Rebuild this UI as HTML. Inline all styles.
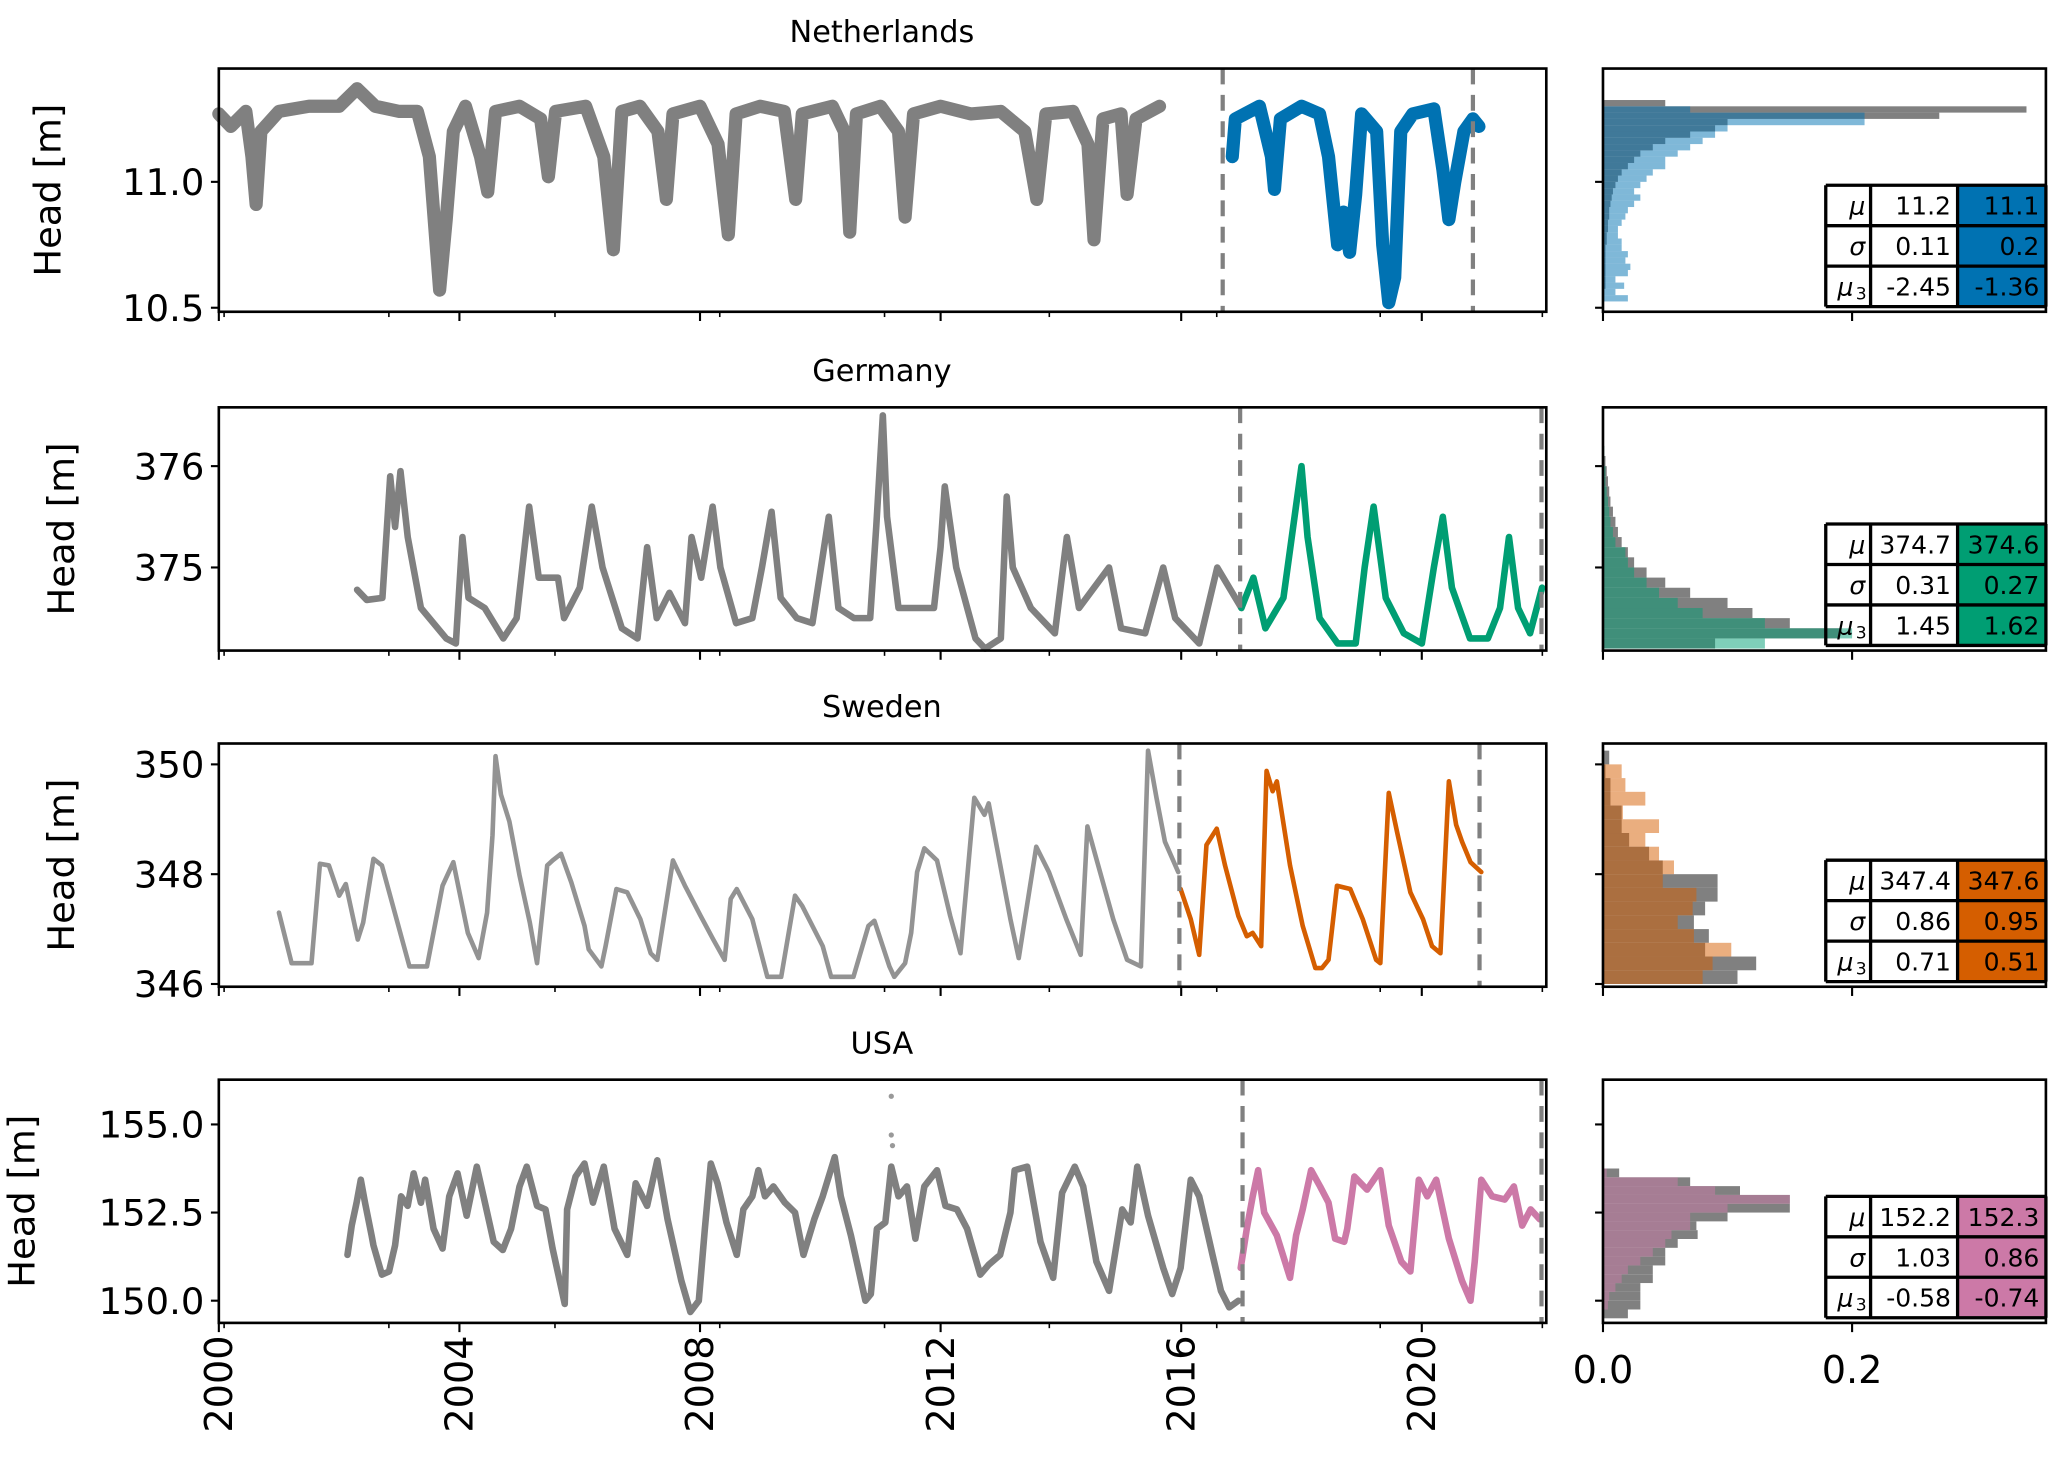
<!DOCTYPE html>
<html><head><meta charset="utf-8"><title>Groundwater heads</title>
<style>
html,body{margin:0;padding:0;background:#fff;}
svg{display:block;font-family:"DejaVu Sans","Liberation Sans",sans-serif;}
</style></head>
<body>
<svg id="fig" width="2067" height="1477" viewBox="0 0 1568 1120.4" preserveAspectRatio="none" xmlns="http://www.w3.org/2000/svg"></svg>
<script>
// ---------- DATA ----------
const panelNames = ["Netherlands","Germany","Sweden","USA"];
const seriesColors = ["#0072b2","#009e73","#d55e00","#cc79a7"];
const yTicks = [[10.5,11.0],[375,376],[346,348,350],[150.0,152.5,155.0]];
const yTickLabels = [["10.5","11.0"],["375","376"],["346","348","350"],["150.0","152.5","155.0"]];
const yLimits = [[10.484,11.45],[374.18,376.58],[345.95,350.38],[149.37,156.27]];
const splitYears = [[2016.69,2020.85],[2016.98,2021.99],[2015.97,2020.96],[2017.02,2021.99]];
const xTickYears = [2000,2004,2008,2012,2016,2020];
const xTickLabels = ["2000","2004","2008","2012","2016","2020"];
const histTicks = [0.0,0.2];
const histTickLabels = ["0.0","0.2"];
const statLabels = ["μ","σ","μ"];
const statsObs = [["11.2","0.11","-2.45"],["374.7","0.31","1.45"],["347.4","0.86","0.71"],["152.2","1.03","-0.58"]];
const statsNew = [["11.1","0.2","-1.36"],["374.6","0.27","1.62"],["347.6","0.95","0.51"],["152.3","0.86","-0.74"]];

const nlGray = [[2000.0,11.27],[2000.2,11.22],[2000.45,11.28],[2000.55,11.1],[2000.62,10.91],[2000.7,11.2],[2001.0,11.28],[2001.5,11.3],[2002.0,11.3],[2002.3,11.37],[2002.6,11.3],[2003.0,11.28],[2003.3,11.28],[2003.5,11.1],[2003.67,10.57],[2003.78,10.85],[2003.9,11.2],[2004.1,11.3],[2004.35,11.1],[2004.47,10.96],[2004.6,11.28],[2005.0,11.3],[2005.35,11.25],[2005.48,11.02],[2005.6,11.28],[2006.1,11.3],[2006.4,11.1],[2006.56,10.73],[2006.7,11.28],[2007.0,11.3],[2007.3,11.2],[2007.44,10.93],[2007.55,11.27],[2008.0,11.3],[2008.3,11.15],[2008.47,10.79],[2008.6,11.27],[2009.0,11.3],[2009.4,11.28],[2009.59,10.93],[2009.7,11.27],[2010.2,11.3],[2010.4,11.2],[2010.49,10.8],[2010.6,11.27],[2011.0,11.3],[2011.3,11.2],[2011.41,10.86],[2011.55,11.27],[2012.0,11.3],[2012.5,11.27],[2013.0,11.28],[2013.4,11.2],[2013.6,10.93],[2013.75,11.27],[2014.2,11.28],[2014.45,11.15],[2014.55,10.77],[2014.7,11.25],[2015.0,11.27],[2015.1,10.95],[2015.25,11.25],[2015.64,11.3]];
const nlNew = [[2016.85,11.1],[2016.9,11.25],[2017.3,11.3],[2017.5,11.1],[2017.55,10.97],[2017.65,11.25],[2018.0,11.3],[2018.3,11.27],[2018.45,11.1],[2018.6,10.75],[2018.7,10.88],[2018.8,10.72],[2018.9,10.95],[2019.0,11.27],[2019.25,11.2],[2019.35,10.75],[2019.45,10.52],[2019.55,10.62],[2019.65,11.2],[2019.85,11.27],[2020.2,11.29],[2020.35,11.05],[2020.45,10.85],[2020.55,11.0],[2020.7,11.2],[2020.85,11.25],[2020.95,11.22]];

const deGray = [[2002.3,374.78],[2002.46,374.68],[2002.72,374.7],[2002.85,375.9],[2002.93,375.4],[2003.02,375.95],[2003.14,375.3],[2003.36,374.6],[2003.78,374.3],[2003.94,374.25],[2004.05,375.3],[2004.15,374.7],[2004.42,374.6],[2004.73,374.3],[2004.95,374.5],[2005.16,375.6],[2005.32,374.9],[2005.64,374.9],[2005.74,374.5],[2006.0,374.8],[2006.2,375.6],[2006.38,375.0],[2006.7,374.4],[2006.96,374.3],[2007.12,375.2],[2007.28,374.5],[2007.49,374.75],[2007.75,374.45],[2007.86,375.3],[2008.02,374.9],[2008.21,375.6],[2008.34,375.0],[2008.6,374.45],[2008.87,374.5],[2009.03,375.0],[2009.19,375.55],[2009.34,374.7],[2009.61,374.5],[2009.87,374.45],[2010.14,375.5],[2010.3,374.6],[2010.56,374.5],[2010.83,374.5],[2010.93,375.4],[2011.04,376.5],[2011.11,375.5],[2011.3,374.6],[2011.62,374.6],[2011.89,374.6],[2012.0,375.2],[2012.07,375.8],[2012.26,375.0],[2012.58,374.3],[2012.74,374.2],[2013.0,374.3],[2013.1,375.7],[2013.2,375.0],[2013.5,374.6],[2013.9,374.35],[2014.1,375.3],[2014.3,374.6],[2014.8,375.0],[2015.0,374.4],[2015.4,374.35],[2015.7,375.0],[2015.9,374.5],[2016.3,374.25],[2016.6,375.0],[2016.9,374.7],[2017.0,374.6]];
const deNew = [[2017.0,374.6],[2017.2,374.9],[2017.4,374.4],[2017.7,374.7],[2018.0,376.0],[2018.1,375.3],[2018.3,374.5],[2018.6,374.25],[2018.9,374.25],[2019.05,375.0],[2019.2,375.6],[2019.4,374.7],[2019.7,374.35],[2020.0,374.25],[2020.2,375.0],[2020.35,375.5],[2020.5,374.8],[2020.8,374.3],[2021.1,374.3],[2021.3,374.6],[2021.45,375.3],[2021.6,374.6],[2021.8,374.35],[2022.0,374.8]];

const seGray = [[2001.0,347.3],[2001.21,346.38],[2001.54,346.38],[2001.68,348.19],[2001.83,348.16],[2002.0,347.61],[2002.11,347.82],[2002.31,346.81],[2002.4,347.12],[2002.57,348.28],[2002.71,348.16],[2003.17,346.32],[2003.46,346.32],[2003.72,347.79],[2003.9,348.22],[2004.14,346.93],[2004.32,346.47],[2004.46,347.3],[2004.55,348.71],[2004.6,350.15],[2004.69,349.45],[2004.83,348.96],[2005.0,347.98],[2005.17,347.12],[2005.29,346.38],[2005.46,348.16],[2005.55,348.25],[2005.69,348.37],[2005.86,347.85],[2006.08,347.06],[2006.15,346.63],[2006.36,346.32],[2006.43,346.69],[2006.61,347.73],[2006.79,347.67],[2007.01,347.18],[2007.18,346.56],[2007.29,346.44],[2007.55,348.25],[2007.75,347.79],[2008.01,347.24],[2008.22,346.81],[2008.41,346.44],[2008.51,347.55],[2008.61,347.73],[2008.87,347.18],[2009.12,346.13],[2009.35,346.13],[2009.58,347.61],[2009.7,347.42],[2010.04,346.69],[2010.18,346.13],[2010.55,346.13],[2010.8,347.06],[2010.9,347.15],[2011.15,346.32],[2011.23,346.13],[2011.41,346.38],[2011.51,346.93],[2011.61,348.04],[2011.73,348.47],[2011.94,348.25],[2012.16,347.24],[2012.33,346.56],[2012.56,349.39],[2012.73,349.08],[2012.8,349.29],[2012.94,348.47],[2013.16,347.18],[2013.3,346.47],[2013.59,348.5],[2013.8,348.04],[2014.09,347.18],[2014.33,346.53],[2014.44,348.87],[2014.59,348.28],[2014.87,347.18],[2015.1,346.44],[2015.33,346.32],[2015.45,350.25],[2015.59,349.39],[2015.73,348.59],[2015.95,348.04]];
const seNew = [[2015.99,347.73],[2016.16,347.18],[2016.3,346.53],[2016.42,348.53],[2016.59,348.83],[2016.73,348.16],[2016.95,347.24],[2017.09,346.87],[2017.19,346.93],[2017.33,346.69],[2017.42,349.88],[2017.52,349.51],[2017.59,349.69],[2017.81,348.16],[2018.02,347.06],[2018.23,346.29],[2018.34,346.29],[2018.45,346.44],[2018.59,347.79],[2018.81,347.73],[2019.02,347.18],[2019.24,346.44],[2019.31,346.38],[2019.45,349.48],[2019.59,348.77],[2019.81,347.67],[2020.02,347.18],[2020.17,346.69],[2020.31,346.56],[2020.45,349.69],[2020.57,348.9],[2020.67,348.59],[2020.81,348.22],[2020.99,348.04]];

const usGray = [[2002.14,151.3],[2002.21,152.13],[2002.29,152.78],[2002.36,153.43],[2002.43,152.78],[2002.54,151.85],[2002.57,151.57],[2002.71,150.74],[2002.83,150.83],[2002.93,151.57],[2003.03,152.96],[2003.14,152.69],[2003.24,153.61],[2003.36,152.78],[2003.43,153.43],[2003.57,152.04],[2003.72,151.48],[2003.83,152.96],[2003.97,153.61],[2004.12,152.41],[2004.29,153.8],[2004.4,152.96],[2004.57,151.67],[2004.72,151.44],[2004.86,152.04],[2005.0,153.24],[2005.12,153.8],[2005.29,152.69],[2005.43,152.59],[2005.55,151.48],[2005.75,149.91],[2005.79,152.59],[2005.93,153.52],[2006.08,153.89],[2006.22,152.78],[2006.4,153.8],[2006.58,152.04],[2006.79,151.3],[2006.93,153.33],[2007.12,152.69],[2007.29,153.98],[2007.46,152.31],[2007.69,150.56],[2007.84,149.68],[2007.98,150.0],[2008.08,152.04],[2008.18,153.89],[2008.29,153.33],[2008.44,152.22],[2008.61,151.3],[2008.72,152.59],[2008.87,152.96],[2008.97,153.7],[2009.08,152.96],[2009.22,153.24],[2009.41,152.78],[2009.58,152.5],[2009.72,151.3],[2009.9,152.31],[2010.04,152.96],[2010.24,154.07],[2010.34,152.96],[2010.51,151.85],[2010.75,150.0],[2010.84,150.19],[2010.94,152.04],[2011.08,152.22],[2011.18,153.8],[2011.3,152.96],[2011.44,153.24],[2011.58,151.76],[2011.73,153.24],[2011.94,153.7],[2012.08,152.69],[2012.27,152.59],[2012.44,152.04],[2012.66,150.74],[2012.8,151.02],[2012.99,151.3],[2013.16,152.5],[2013.23,153.7],[2013.44,153.8],[2013.66,151.67],[2013.87,150.65],[2014.02,153.06],[2014.23,153.8],[2014.37,153.24],[2014.59,151.11],[2014.8,150.28],[2015.02,152.59],[2015.16,152.22],[2015.27,153.8],[2015.45,152.41],[2015.7,150.93],[2015.85,150.19],[2015.99,150.93],[2016.16,153.43],[2016.3,152.96],[2016.52,151.3],[2016.66,150.28],[2016.8,149.81],[2016.95,150.0]];
const usNew = [[2016.99,150.93],[2017.09,152.04],[2017.19,152.96],[2017.28,153.7],[2017.38,152.5],[2017.59,151.85],[2017.81,150.65],[2017.91,151.85],[2018.02,152.59],[2018.16,153.7],[2018.31,153.24],[2018.45,152.78],[2018.56,151.76],[2018.71,151.67],[2018.76,152.04],[2018.88,153.52],[2019.09,153.15],[2019.31,153.7],[2019.45,152.13],[2019.66,151.11],[2019.81,150.83],[2019.95,153.43],[2020.09,152.96],[2020.24,153.43],[2020.45,151.76],[2020.67,150.56],[2020.81,150.0],[2020.88,151.11],[2020.99,153.43],[2021.17,152.96],[2021.38,152.87],[2021.53,153.24],[2021.67,152.13],[2021.81,152.59],[2021.96,152.31]];
const usOutliers = [[2011.18,155.8],[2011.18,154.7],[2011.2,154.4]];

const grayData = [nlGray,deGray,seGray,usGray];
const newData = [nlNew,deNew,seNew,usNew];

// histograms: bin start, bin width, densities from bottom
const histStart = [10.525,374.2,346.0,149.5];
const histWidth = [0.025,0.1,0.25,0.25];
const histGray = [
 [0.001,0.001,0.002,0.002,0.002,0.002,0.002,0.002,0.002,0.003,0.003,0.004,0.004,0.005,0.005,0.006,0.007,0.008,0.01,0.012,0.015,0.02,0.025,0.03,0.04,0.05,0.07,0.09,0.1,0.27,0.34,0.05,0,0],
 [0.09,0.19,0.15,0.12,0.10,0.07,0.05,0.035,0.025,0.02,0.015,0.012,0.01,0.008,0.006,0.005,0.004,0.003,0.002,0.001],
 [0.108,0.123,0.082,0.085,0.073,0.082,0.092,0.092,0.048,0.037,0.021,0.015,0.015,0.006,0.006,0.002,0.005],
 [0.02,0.03,0.03,0.03,0.04,0.04,0.05,0.05,0.06,0.076,0.075,0.10,0.15,0.15,0.11,0.07,0.013]
];
const histNew = [
 [0.02,0.01,0.017,0.01,0.02,0.022,0.018,0.02,0.015,0.015,0.012,0.012,0.015,0.018,0.02,0.025,0.03,0.025,0.03,0.035,0.04,0.05,0.05,0.06,0.07,0.08,0.09,0.10,0.21,0.21,0.07,0,0,0],
 [0.13,0.20,0.13,0.08,0.06,0.045,0.035,0.025,0.02,0.018,0.01,0.008,0.006,0.005,0.004,0.003,0.002,0.002,0.001,0.001],
 [0.08,0.088,0.103,0.073,0.06,0.072,0.075,0.048,0.057,0.045,0.034,0.045,0.016,0.034,0.018,0.015,0],
 [0,0.004,0.005,0.01,0.015,0.02,0.03,0.04,0.05,0.055,0.07,0.07,0.10,0.15,0.09,0.06,0.003]
];

// ---------- LAYOUT ----------
const NS = "http://www.w3.org/2000/svg";
const svg = document.getElementById('fig');
const mainL = 166, mainR = 1173, histL = 1216, histR = 1552;
const panelTop = [52,309,564,819], panelH = 184.5;
const xMin = 2000, xMax = 2022.07, hMax = 0.3556;
const lineW = [10,5,3.5,5];
const yTitleX = [46,56,56,26];
function sx(yr){ return mainL + (yr - xMin) / (xMax - xMin) * (mainR - mainL); }
function hx(d){ return histL + d / hMax * (histR - histL); }
function makeSy(i){ const [lo,hi] = yLimits[i]; const t = panelTop[i]; return v => t + (hi - v) / (hi - lo) * panelH; }
function el(tag, attrs, parent){ const e = document.createElementNS(NS, tag); for (const k in attrs) e.setAttribute(k, attrs[k]); (parent||svg).appendChild(e); return e; }
function txt(s, attrs, parent){ const e = el('text', attrs, parent); e.textContent = s; return e; }

for (let i = 0; i < 4; i++) {
  const sy = makeSy(i);
  const top = panelTop[i], bot = top + panelH;
  const g = el('g', {});
  
  

  const title = txt(panelNames[i], {x: 669, y: top - 20, 'font-size': 23, 'text-anchor': 'middle'}, g);
  
  

  const yl = txt('Head [m]', {transform: `translate(${yTitleX[i]},${top+panelH/2}) rotate(-90)`, 'font-size': 28, 'text-anchor': 'middle'}, g);
  
  

  const pg = el('polyline', {points: grayData[i].map(p => sx(p[0]).toFixed(1) + ',' + sy(p[1]).toFixed(1)).join(' '), fill: 'none', stroke: '#808080', 'stroke-width': lineW[i], 'stroke-linejoin': 'round', 'stroke-linecap': 'round', 'stroke-opacity': i===2?0.85:1}, g);
  
  
  const pn = el('polyline', {points: newData[i].map(p => sx(p[0]).toFixed(1) + ',' + sy(p[1]).toFixed(1)).join(' '), fill: 'none', stroke: seriesColors[i], 'stroke-width': lineW[i], 'stroke-linejoin': 'round', 'stroke-linecap': 'round'}, g);
  
  
  if (i === 3) {
    usOutliers.forEach(p => {
      const c = el('circle', {cx: sx(p[0]), cy: sy(p[1]), r: 2, fill: '#999'}, g);
      
      
    });
  }
  splitYears[i].forEach(yr => {
    const d = el('line', {x1: sx(yr), x2: sx(yr), y1: top, y2: bot, stroke: '#808080', 'stroke-width': 3.2, 'stroke-dasharray': '12,8'}, g);
    
    
  });
  const fr = el('rect', {x: mainL, y: top, width: mainR - mainL, height: panelH, fill: 'none', stroke: '#000', 'stroke-width': 2}, g);
  
  
  yTicks[i].forEach((v, k) => {
    el('line', {x1: mainL - 6, x2: mainL, y1: sy(v), y2: sy(v), stroke: '#000', 'stroke-width': 1.6}, g);
    el('line', {x1: histL - 6, x2: histL, y1: sy(v), y2: sy(v), stroke: '#000', 'stroke-width': 1.6}, g);
    const t = txt(yTickLabels[i][k], {x: mainL - 11, y: sy(v) + 10, 'font-size': 28, 'text-anchor': 'end'}, g);
    
    
  });
  xTickYears.forEach(yr => el('line', {x1: sx(yr), x2: sx(yr), y1: bot, y2: bot + 7, stroke: '#000', 'stroke-width': 1.6}, g));
  [170,295,421,546,671,796,923,1047,1170].forEach(x => el('line', {x1: x, x2: x, y1: bot, y2: bot + 4, stroke: '#000', 'stroke-width': 1.2}, g));
  histTicks.forEach(d => el('line', {x1: hx(d), x2: hx(d), y1: bot, y2: bot + 7, stroke: '#000', 'stroke-width': 1.6}, g));

  const hg = el('g', {}, g);
  
  
  histGray[i].forEach((d, k) => {
    if (!d) return;
    const y0 = histStart[i] + k * histWidth[i];
    const r = el('rect', {x: histL, y: sy(y0 + histWidth[i]), width: hx(d) - histL, height: sy(y0) - sy(y0 + histWidth[i]), fill: '#808080'}, hg);
    
    
  });
  histNew[i].forEach((d, k) => {
    if (!d) return;
    const y0 = histStart[i] + k * histWidth[i];
    const r = el('rect', {x: histL, y: sy(y0 + histWidth[i]), width: hx(d) - histL, height: sy(y0) - sy(y0 + histWidth[i]), fill: seriesColors[i], 'fill-opacity': 0.5}, hg);
    
    
  });
  const hf = el('rect', {x: histL, y: top, width: histR - histL, height: panelH, fill: 'none', stroke: '#000', 'stroke-width': 2}, g);
  
  

  const tb = el('g', {}, g);
  
  
  const tx0 = 1385, tx1 = 1419, tx2 = 1485, tx3 = 1552, rh = 30.7, ty = bot - 96;
  for (let r = 0; r < 3; r++) {
    const y = ty + r * rh;
    el('rect', {x: tx2, y: y, width: tx3 - tx2, height: rh, fill: seriesColors[i]}, tb);
    const c1 = txt(statLabels[r], {x: r===2 ? tx1 - 13 : tx1 - 4, y: y + rh/2 + 7, 'font-size': 19, 'font-style': 'italic', 'text-anchor': 'end'}, tb);
    
    
    if (r === 2) {
      const sub = txt('3', {x: tx1 - 3, y: y + rh/2 + 10, 'font-size': 13, 'text-anchor': 'end'}, tb);
      
      
    }
    const c2 = txt(statsObs[i][r], {x: tx2 - 5, y: y + rh/2 + 7, 'font-size': 19, 'text-anchor': 'end'}, tb);
    
    
    const c3 = txt(statsNew[i][r], {x: tx3 - 5, y: y + rh/2 + 7, 'font-size': 19, 'text-anchor': 'end'}, tb);
    
    
  }
  for (let r = 0; r <= 3; r++) el('line', {x1: tx0, x2: tx3, y1: ty + r*rh, y2: ty + r*rh, stroke: '#000', 'stroke-width': 2.5}, tb);
  [tx0, tx1, tx2, tx3].forEach(x => el('line', {x1: x, x2: x, y1: ty, y2: ty + 3*rh, stroke: '#000', 'stroke-width': 2.5}, tb));
}

xTickYears.forEach((yr, k) => {
  const t = txt(xTickLabels[k], {transform: `translate(${sx(yr) + 10},1013) rotate(-90)`, 'font-size': 29, 'text-anchor': 'end'});
  
  
});
histTicks.forEach((d, k) => {
  const t = txt(histTickLabels[k], {x: hx(d), y: 1049, 'font-size': 29, 'text-anchor': 'middle'});
  
  
});
</script>
</body></html>
